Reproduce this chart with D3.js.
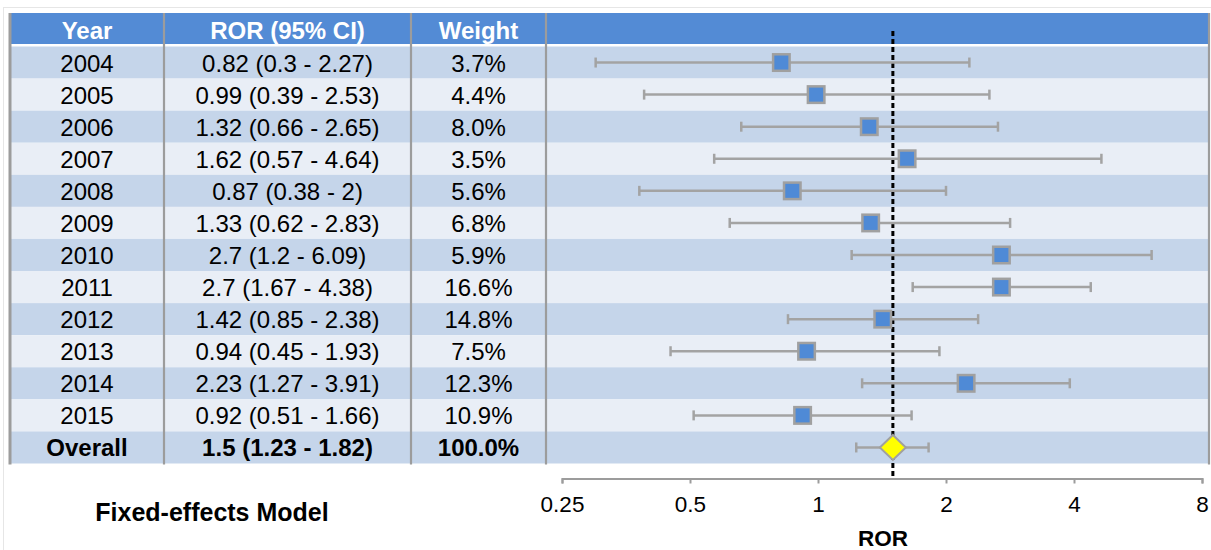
<!DOCTYPE html>
<html>
<head>
<meta charset="utf-8">
<script src="https://cdn.jsdelivr.net/npm/d3@7"></script>
<style>
  html, body { margin: 0; padding: 0; background: #ffffff; }
  svg { display: block; font-family: "Liberation Sans", Arial, sans-serif; }
</style>
</head>
<body>
<svg id="chart" width="1211" height="550"></svg>
<script>
// Per-year reporting odds ratios with 95% confidence intervals
const years   = ["2004","2005","2006","2007","2008","2009","2010","2011","2012","2013","2014","2015"];
const ror     = [0.82, 0.99, 1.32, 1.62, 0.87, 1.33, 2.7, 2.7, 1.42, 0.94, 2.23, 0.92];
const ciLow   = [0.3, 0.39, 0.66, 0.57, 0.38, 0.62, 1.2, 1.67, 0.85, 0.45, 1.27, 0.51];
const ciHigh  = [2.27, 2.53, 2.65, 4.64, 2, 2.83, 6.09, 4.38, 2.38, 1.93, 3.91, 1.66];
const weights = [3.7, 4.4, 8.0, 3.5, 5.6, 6.8, 5.9, 16.6, 14.8, 7.5, 12.3, 10.9];

// Pooled estimate
const overallLabel  = "Overall";
const overallRor    = 1.5;
const overallLow    = 1.23;
const overallHigh   = 1.82;
const overallWeight = 100.0;

const headers    = ["Year", "ROR (95% CI)", "Weight"];
const axisTicks  = [0.25, 0.5, 1, 2, 4, 8];
const modelLabel = "Fixed-effects Model";
const axisTitle  = "ROR";

const svg = d3.select("#chart");

const colors = {
  header: "#538bd5",
  rowDark: "#c5d5ea",
  rowLight: "#e9eef6",
  grid: "#9c9c9c",
  whisker: "#a3a3a3",
  square: "#4f8ad6",
  markStroke: "#a0a0a0",
  diamond: "#ffff00"
};

// Column edges of the table
const colEdges = [10, 164, 411, 546, 1209];
const tableTop = 13, headerBottom = 44, rowsTop = 46.5, rowsBottom = 463.5;

const rows = years.map((y, i) => ({
  label: y, ror: ror[i], lo: ciLow[i], hi: ciHigh[i], weight: weights[i], overall: false
}));
rows.push({ label: overallLabel, ror: overallRor, lo: overallLow, hi: overallHigh, weight: overallWeight, overall: true });

const yBand = d3.scaleBand().domain(rows.map(d => d.label)).range([rowsTop, rowsBottom]).padding(0);
const x = d3.scaleLog().base(2).domain([0.25, 8]).range([562, 1202]);

// faint outer frame
svg.append("rect").attr("x", 3.5).attr("y", 7.5).attr("width", 1220).attr("height", 560)
  .attr("fill", "none").attr("stroke", "#e6e6e6").attr("stroke-width", 1);

// header band
svg.append("rect").attr("x", colEdges[0]).attr("y", tableTop)
  .attr("width", colEdges[4] - colEdges[0]).attr("height", headerBottom - tableTop)
  .attr("fill", colors.header);

// row bands
svg.append("g").selectAll("rect").data(rows).join("rect")
  .attr("x", colEdges[0]).attr("y", d => yBand(d.label))
  .attr("width", colEdges[4] - colEdges[0]).attr("height", yBand.bandwidth())
  .attr("fill", (d, i) => i % 2 === 0 ? colors.rowDark : colors.rowLight);

// column separators
svg.append("g").selectAll("line").data(colEdges).join("line")
  .attr("x1", d => d).attr("x2", d => d)
  .attr("y1", tableTop).attr("y2", rowsBottom + 1)
  .attr("stroke", colors.grid)
  .attr("stroke-width", (d, i) => i === 0 ? 3 : 2.2);

// header text
const colCenters = [0, 1, 2].map(i => (colEdges[i] + colEdges[i + 1]) / 2);
svg.append("g").selectAll("text").data(headers).join("text")
  .attr("x", (d, i) => colCenters[i]).attr("y", 39)
  .attr("text-anchor", "middle").attr("fill", "#ffffff")
  .attr("font-weight", "bold").attr("font-size", 24)
  .text(d => d);

// table cells
const cellText = d => [d.label, `${d.ror} (${d.lo} - ${d.hi})`, `${d.weight.toFixed(1)}%`];
const rowG = svg.append("g").selectAll("g").data(rows).join("g")
  .attr("transform", d => `translate(0,${yBand(d.label) + yBand.bandwidth() / 2 + 9})`);
rowG.selectAll("text").data(d => cellText(d).map(t => ({ t, overall: d.overall }))).join("text")
  .attr("x", (d, i) => colCenters[i]).attr("y", 0)
  .attr("text-anchor", "middle").attr("fill", "#000000")
  .attr("font-size", 24)
  .attr("font-weight", d => d.overall ? "bold" : "normal")
  .text(d => d.t);

// reference line at the pooled estimate
const axisY = 478.5;
svg.append("line")
  .attr("x1", x(overallRor)).attr("x2", x(overallRor))
  .attr("y1", 31).attr("y2", axisY)
  .attr("stroke", "#000000").attr("stroke-width", 3)
  .attr("stroke-dasharray", "5,3");

// confidence interval whiskers
const capH = 10;
const whisk = svg.append("g").selectAll("g").data(rows).join("g")
  .attr("transform", d => `translate(0,${yBand(d.label) + yBand.bandwidth() / 2})`)
  .attr("stroke", colors.whisker).attr("stroke-width", 2.5);
whisk.append("line").attr("x1", d => x(d.lo)).attr("x2", d => x(d.hi)).attr("y1", 0).attr("y2", 0);
whisk.append("line").attr("x1", d => x(d.lo)).attr("x2", d => x(d.lo)).attr("y1", -capH / 2).attr("y2", capH / 2);
whisk.append("line").attr("x1", d => x(d.hi)).attr("x2", d => x(d.hi)).attr("y1", -capH / 2).attr("y2", capH / 2);

// point estimates
const sq = 16.5;
svg.append("g").selectAll("rect").data(rows.filter(d => !d.overall)).join("rect")
  .attr("x", d => x(d.ror) - sq / 2)
  .attr("y", d => yBand(d.label) + yBand.bandwidth() / 2 - sq / 2)
  .attr("width", sq).attr("height", sq)
  .attr("fill", colors.square).attr("stroke", colors.markStroke).attr("stroke-width", 2.5);

// pooled diamond
const ov = rows.find(d => d.overall);
const cy = yBand(ov.label) + yBand.bandwidth() / 2;
const cx = x(ov.ror), hw = 13, hh = 12.5;
svg.append("path")
  .attr("d", `M${cx - hw},${cy} L${cx},${cy - hh} L${cx + hw},${cy} L${cx},${cy + hh} Z`)
  .attr("fill", colors.diamond).attr("stroke", colors.markStroke).attr("stroke-width", 2);

// log axis
const axis = d3.axisBottom(x).tickValues(axisTicks).tickFormat(d => String(d))
  .tickSize(5).tickSizeOuter(5).tickPadding(13);
const axG = svg.append("g").attr("transform", `translate(0,${axisY})`).call(axis);
axG.select(".domain").attr("stroke", colors.grid).attr("stroke-width", 2);
axG.selectAll(".tick line").attr("stroke", colors.grid).attr("stroke-width", 2);
axG.selectAll(".tick text").attr("fill", "#000000").attr("font-size", 22.5)
  .attr("font-family", "'Liberation Sans', Arial, sans-serif");

// axis title and model label
svg.append("text").attr("x", 883).attr("y", 546).attr("text-anchor", "middle")
  .attr("font-size", 22.5).attr("font-weight", "bold").attr("fill", "#000000").text(axisTitle);
svg.append("text").attr("x", 212).attr("y", 521).attr("text-anchor", "middle")
  .attr("font-size", 25).attr("font-weight", "bold").attr("fill", "#000000").text(modelLabel);
</script>
</body>
</html>
